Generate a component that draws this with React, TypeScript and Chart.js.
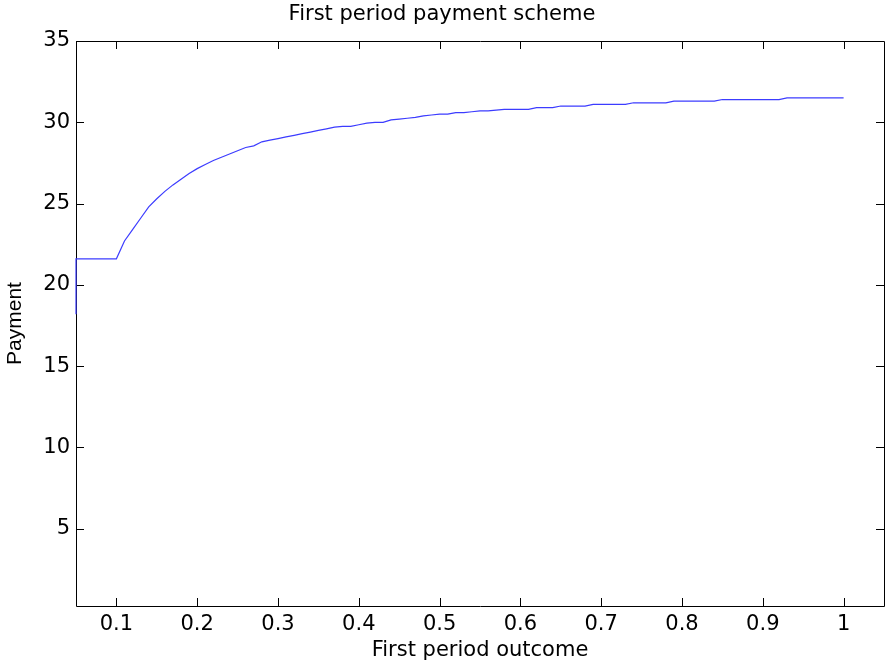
import React, { useEffect, useRef } from "react";
import { Chart, registerables } from "chart.js";

Chart.register(...registerables);

const outcome: number[] = [
  0.05, 0.05, 0.06, 0.07, 0.08, 0.09, 0.1, 0.11, 0.12, 0.13, 0.14, 0.15, 0.16, 0.17, 0.18, 0.19,
  0.2, 0.21, 0.22, 0.23, 0.24, 0.25, 0.26, 0.27, 0.28, 0.29, 0.3, 0.31, 0.32, 0.33, 0.34, 0.35,
  0.36, 0.37, 0.38, 0.39, 0.4, 0.41, 0.42, 0.43, 0.44, 0.45, 0.46, 0.47, 0.48, 0.49, 0.5, 0.51,
  0.52, 0.53, 0.54, 0.55, 0.56, 0.57, 0.58, 0.59, 0.6, 0.61, 0.62, 0.63, 0.64, 0.65, 0.66, 0.67,
  0.68, 0.69, 0.7, 0.71, 0.72, 0.73, 0.74, 0.75, 0.76, 0.77, 0.78, 0.79, 0.8, 0.81, 0.82, 0.83,
  0.84, 0.85, 0.86, 0.87, 0.88, 0.89, 0.9, 0.91, 0.92, 0.93, 0.94, 0.95, 0.96, 0.97, 0.98, 0.99, 1.0,
];

const payment: number[] = [
  18.2, 21.6, 21.6, 21.6, 21.6, 21.6, 21.6, 22.7, 23.4, 24.1, 24.8, 25.3, 25.75, 26.15, 26.5, 26.85,
  27.15, 27.4, 27.65, 27.85, 28.05, 28.25, 28.45, 28.55, 28.8, 28.9, 29.0, 29.1, 29.2, 29.3, 29.4, 29.5,
  29.6, 29.7, 29.75, 29.75, 29.85, 29.95, 30.0, 30.0, 30.15, 30.2, 30.25, 30.3, 30.4, 30.45, 30.5, 30.5,
  30.6, 30.6, 30.65, 30.7, 30.7, 30.75, 30.8, 30.8, 30.8, 30.8, 30.9, 30.9, 30.9, 31.0, 31.0, 31.0,
  31.0, 31.1, 31.1, 31.1, 31.1, 31.1, 31.2, 31.2, 31.2, 31.2, 31.2, 31.3, 31.3, 31.3, 31.3, 31.3,
  31.3, 31.4, 31.4, 31.4, 31.4, 31.4, 31.4, 31.4, 31.4, 31.5, 31.5, 31.5, 31.5, 31.5, 31.5, 31.5, 31.5,
];

const xTicks: number[] = [0.1, 0.2, 0.3, 0.4, 0.5, 0.6, 0.7, 0.8, 0.9, 1];
const yTicks: number[] = [5, 10, 15, 20, 25, 30, 35];

const TITLE = "First period payment scheme";
const X_TITLE = "First period outcome";
const Y_TITLE = "Payment";

const boxPlugin = {
  id: "matlabBox",
  beforeDatasetsDraw(chart: any) {
    const { ctx, chartArea: a, scales } = chart;
    const tl = 8;
    ctx.save();
    ctx.strokeStyle = "#000";
    ctx.lineWidth = 1;
    ctx.beginPath();
    ctx.rect(Math.round(a.left) + 0.5, Math.round(a.top) + 0.5, Math.round(a.right - a.left), Math.round(a.bottom - a.top));
    for (const v of xTicks) {
      const px = Math.round(scales.x.getPixelForValue(v)) + 0.5;
      ctx.moveTo(px, a.bottom);
      ctx.lineTo(px, a.bottom - tl);
      ctx.moveTo(px, a.top);
      ctx.lineTo(px, a.top + tl);
    }
    for (const v of yTicks) {
      const py = Math.round(scales.y.getPixelForValue(v)) + 0.5;
      ctx.moveTo(a.left, py);
      ctx.lineTo(a.left + tl, py);
      ctx.moveTo(a.right, py);
      ctx.lineTo(a.right - tl, py);
    }
    ctx.stroke();
    ctx.restore();
  },
};

export default function App() {
  const ref = useRef<HTMLCanvasElement | null>(null);
  useEffect(() => {
    document.body.style.margin = "0";
    const canvas = ref.current;
    if (!canvas) return;
    const chart = new Chart(canvas, {
      type: "line",
      data: {
        datasets: [
          {
            data: outcome.map((x, i) => ({ x, y: payment[i] })),
            borderColor: "rgb(60,60,255)",
            borderWidth: 1.2,
            pointRadius: 0,
            tension: 0,
            fill: false,
            clip: 2,
          },
        ],
      },
      options: {
        animation: false,
        responsive: false,
        layout: { padding: { left: 0, right: 2, top: 0, bottom: 0 } },
        plugins: {
          legend: { display: false },
          tooltip: { enabled: false },
          title: {
            display: true,
            text: TITLE,
            color: "#000",
            font: { family: "'DejaVu Sans'", size: 21, weight: "normal" },
            padding: { top: 1.5, bottom: 14.3 },
          },
        },
        scales: {
          x: {
            type: "linear",
            min: 0.05,
            max: 1.05,
            grid: { display: false, drawTicks: false },
            border: { display: false },
            afterBuildTicks: (s: any) => {
              s.ticks = xTicks.map((v) => ({ value: v }));
            },
            afterFit: (s: any) => {
              s.height = 60;
            },
            ticks: {
              color: "#000",
              padding: 6,
              maxRotation: 0,
              autoSkip: false,
              font: { family: "'DejaVu Sans'", size: 21 },
              callback: (v: any) => String(v),
            },
            title: {
              display: true,
              text: X_TITLE,
              color: "#000",
              font: { family: "'DejaVu Sans'", size: 21 },
              padding: { top: 0, bottom: 2.4 },
            },
          },
          y: {
            type: "linear",
            min: 0.25,
            max: 35,
            grid: { display: false, drawTicks: false },
            border: { display: false },
            afterBuildTicks: (s: any) => {
              s.ticks = yTicks.map((v) => ({ value: v }));
            },
            afterFit: (s: any) => {
              s.width = 76;
            },
            ticks: {
              color: "#000",
              padding: 6,
              autoSkip: false,
              font: { family: "'DejaVu Sans'", size: 21 },
              callback: (v: any) => String(v),
            },
            title: {
              display: true,
              text: Y_TITLE,
              color: "#000",
              font: { family: "'Liberation Sans'", size: 21 },
              padding: { top: 2.4, bottom: 0 },
            },
          },
        },
      },
      plugins: [boxPlugin],
    });
    return () => chart.destroy();
  }, []);
  return (
    <div style={{ width: 886, height: 666 }}>
      <canvas ref={ref} width={886} height={666} style={{ display: "block" }} />
    </div>
  );
}
